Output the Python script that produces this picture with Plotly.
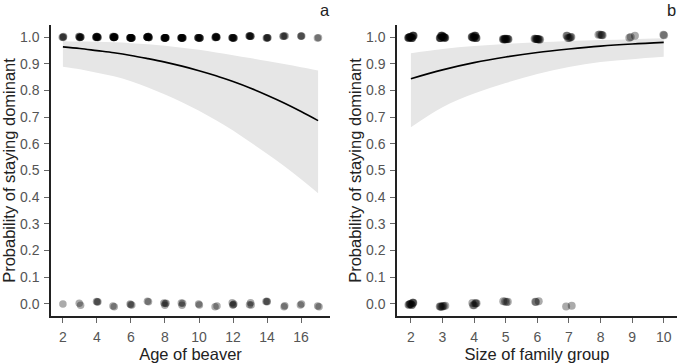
import plotly.graph_objects as go

# ---------------- Data ----------------
# Panel a: age of beaver
age_x = [2, 3, 4, 5, 6, 7, 8, 9, 10, 11, 12, 13, 14, 15, 16, 17]
age_fit = [0.963, 0.957, 0.949, 0.941, 0.931, 0.919, 0.906, 0.891, 0.874,
           0.855, 0.833, 0.809, 0.782, 0.753, 0.721, 0.687]
age_upper = [0.984, 0.983, 0.982, 0.980, 0.977, 0.973, 0.967, 0.960, 0.952,
             0.942, 0.932, 0.921, 0.910, 0.899, 0.887, 0.875]
age_lower = [0.889, 0.879, 0.866, 0.853, 0.834, 0.811, 0.785, 0.756, 0.724,
             0.688, 0.650, 0.607, 0.563, 0.517, 0.467, 0.415]
# observed counts per age (stayed dominant = 1, lost = 0)
age_n_stay = [4, 8, 12, 14, 14, 14, 12, 12, 10, 10, 9, 7, 5, 4, 3, 2]
age_n_lost = [1, 2, 3, 2, 3, 2, 4, 3, 2, 2, 4, 3, 3, 2, 2, 2]

# Panel b: size of family group
size_x = [2, 3, 4, 5, 6, 7, 8, 9, 10]
size_fit = [0.844, 0.877, 0.904, 0.925, 0.942, 0.955, 0.966, 0.974, 0.980]
size_upper = [0.939, 0.955, 0.966, 0.974, 0.980, 0.985, 0.989, 0.992, 0.995]
size_lower = [0.662, 0.737, 0.788, 0.828, 0.861, 0.888, 0.906, 0.917, 0.926]
size_n_stay = [16, 16, 14, 12, 10, 7, 5, 3, 2]
size_n_lost = [10, 7, 6, 4, 3, 2, 0, 0, 0]

# display jitter offsets (cycled), x in axis units, y in probability units
jit_x = [0.00, 0.05, -0.05, 0.03, -0.03, 0.07, -0.07, 0.02, -0.02, 0.06,
         -0.06, 0.04, -0.04, 0.08, -0.08, 0.01, -0.01]
jit_y = [0.000, 0.008, -0.008, -0.005, 0.005, 0.010, -0.010, 0.003, -0.003,
         0.007, -0.007, 0.004, -0.004, 0.009, -0.009, 0.002]

x_ticks_a = [2, 4, 6, 8, 10, 12, 14, 16]
x_ticks_b = [2, 3, 4, 5, 6, 7, 8, 9, 10]
y_ticks = [0.0, 0.1, 0.2, 0.3, 0.4, 0.5, 0.6, 0.7, 0.8, 0.9, 1.0]


def jittered(xs, counts, yval, sx, sy):
    px, py = [], []
    k = 0
    for x, n in zip(xs, counts):
        for i in range(n):
            px.append(x + jit_x[k % len(jit_x)] * sx)
            py.append(yval + jit_y[(k * 3 + i) % len(jit_y)] * sy)
            k += 1
    return px, py


fig = go.Figure()
BAND = "#e6e6e6"
PT = "rgba(0,0,0,0.33)"


def add_panel(xs, fit, up, lo, n1, n0, xa, ya, sx, sy1, msize):
    fig.add_trace(go.Scatter(x=xs, y=up, mode="lines", line=dict(width=0, shape="spline"),
                             xaxis=xa, yaxis=ya, hoverinfo="skip", showlegend=False))
    fig.add_trace(go.Scatter(x=xs, y=lo, mode="lines", line=dict(width=0, shape="spline"),
                             fill="tonexty", fillcolor=BAND, xaxis=xa, yaxis=ya,
                             hoverinfo="skip", showlegend=False))
    fig.add_trace(go.Scatter(x=xs, y=fit, mode="lines",
                             line=dict(color="black", width=1.6, shape="spline"),
                             xaxis=xa, yaxis=ya, showlegend=False))
    px1, py1 = jittered(xs, n1, 1.0, sx, sy1)
    px0, py0 = jittered(xs, n0, 0.0, sx, 1.0)
    fig.add_trace(go.Scatter(x=px1 + px0, y=py1 + py0, mode="markers",
                             marker=dict(size=msize, color=PT, line=dict(width=0)),
                             xaxis=xa, yaxis=ya, showlegend=False))


add_panel(age_x, age_fit, age_upper, age_lower, age_n_stay, age_n_lost, "x", "y", 0.8, 0.4, 7.5)
add_panel(size_x, size_fit, size_upper, size_lower, size_n_stay, size_n_lost, "x2", "y2", 1.1, 0.9, 8)

FONT = "Liberation Sans, Arial, sans-serif"
tickfont = dict(family=FONT, size=14, color="#555555")
titlefont = dict(family=FONT, size=16.5, color="#222222")

axis_common = dict(showline=True, linecolor="#222222", linewidth=1.5, showgrid=False,
                   zeroline=False, ticks="outside", ticklen=5, tickcolor="#666666",
                   tickwidth=1, tickfont=tickfont, title_font=titlefont,
                   automargin=False, ticklabelstandoff=2)

L, R, T, B = 51, 0, 25, 47
W, H = 677, 363
plot_w = W - L - R
plot_h = H - T - B

fig.update_layout(
    width=W, height=H,
    margin=dict(l=L, r=R, t=T, b=B),
    plot_bgcolor="white", paper_bgcolor="white",
    xaxis=dict(domain=[0, (330 - L) / plot_w], range=[1.3, 17.7], tickvals=x_ticks_a,
               title=dict(text="Age of beaver", standoff=0), anchor="y", **axis_common),
    yaxis=dict(domain=[0, 1], range=[-0.045, 1.045], tickvals=y_ticks, tickformat=".1f",
               title=dict(text="Probability of staying dominant", standoff=0),
               anchor="x", **axis_common),
    xaxis2=dict(domain=[(397 - L) / plot_w, 1], range=[1.56, 10.42], tickvals=x_ticks_b,
                title=dict(text="Size of family group", standoff=0), anchor="y2", **axis_common),
    yaxis2=dict(domain=[0, 1], range=[-0.045, 1.045], tickvals=y_ticks, tickformat=".1f",
                title=dict(text="Probability of staying dominant", standoff=0),
                anchor="x2", **axis_common),
)

for lab, px_, py_ in [("a", 325, 10), ("b", 671, 10)]:
    fig.add_annotation(text=lab, x=(px_ - L) / plot_w, y=(H - B - py_) / plot_h,
                       xref="paper", yref="paper", showarrow=False,
                       xanchor="center", yanchor="middle",
                       font=dict(family=FONT, size=16.5, color="#222222"))

fig.write_html("out.html", config={"displayModeBar": False},
               post_script="document.body.style.margin='0';")
